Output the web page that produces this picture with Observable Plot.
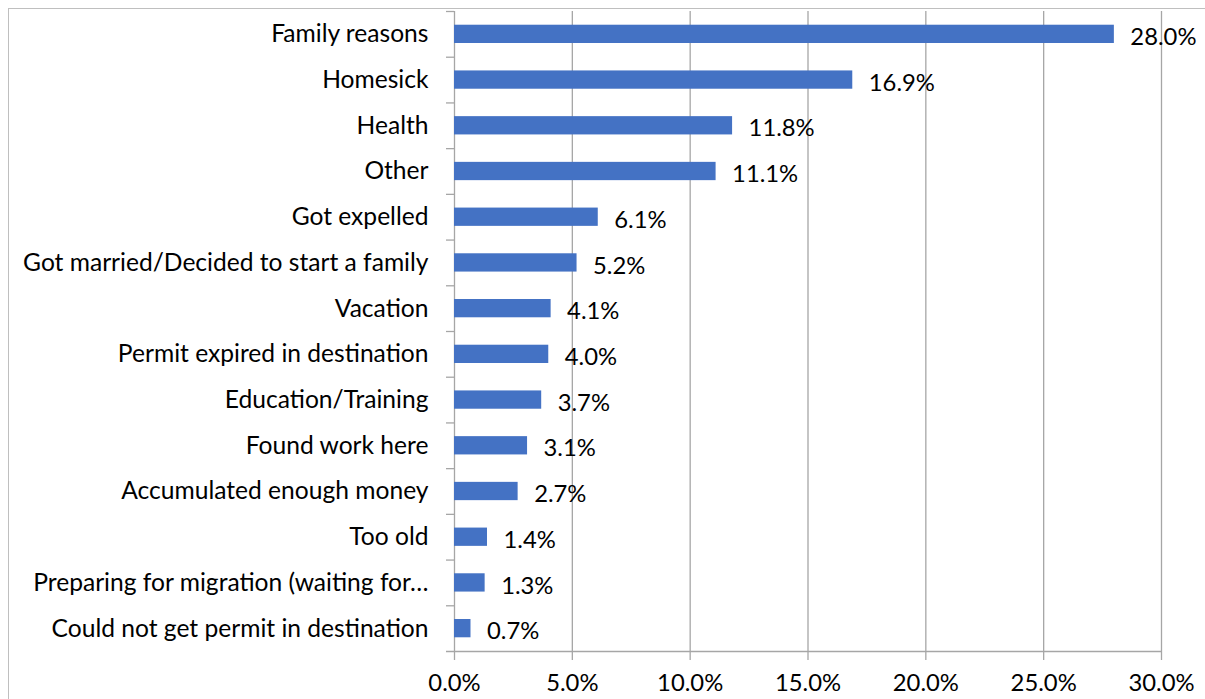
<!DOCTYPE html>
<html>
<head>
<meta charset="utf-8">
<script src="https://cdn.jsdelivr.net/npm/d3@7"></script>
<script src="https://cdn.jsdelivr.net/npm/@observablehq/plot@0.6"></script>
<style>
  html, body { margin: 0; padding: 0; background: #fff; }
  #wrap { position: relative; width: 1205px; height: 699px; overflow: hidden; }
  #border { position: absolute; left: 8px; top: 8px; width: 1300px; height: 800px; border-left: 1.5px solid #bfbfbf; border-top: 1.5px solid #bfbfbf; }
  #chart { position: absolute; left: 0; top: 0; }
</style>
</head>
<body>
<div id="wrap"><div id="border"></div><div id="chart"></div></div>
<script>
const categories = [
  "Family reasons",
  "Homesick",
  "Health",
  "Other",
  "Got expelled",
  "Got married/Decided to start a family",
  "Vacation",
  "Permit expired in destination",
  "Education/Training",
  "Found work here",
  "Accumulated enough money",
  "Too old",
  "Preparing for migration (waiting for…",
  "Could not get permit in destination"
];
const values = [28.0, 16.9, 11.8, 11.1, 6.1, 5.2, 4.1, 4.0, 3.7, 3.1, 2.7, 1.4, 1.3, 0.7];
const xTicks = [0, 5, 10, 15, 20, 25, 30];

const data = categories.map((c, i) => ({category: c, value: values[i]}));

const W = 1205, H = 699;
const mT = 11, mB = 48, mL = 454, mR = 44;
const step = (H - mT - mB) / categories.length;
const pxPerUnit = (W - mL - mR) / 30;
const tickLen = 8 / pxPerUnit;
const font = "Lato, 'Open Sans', sans-serif";
const gridColor = "#a6a6a6";

const plot = Plot.plot({
  width: W,
  height: H,
  marginTop: mT,
  marginBottom: mB,
  marginLeft: mL,
  marginRight: mR,
  style: {fontFamily: font, fontSize: "24px", color: "#000", background: "transparent", overflow: "visible"},
  x: {domain: [0, 30], ticks: xTicks},
  y: {domain: categories, paddingInner: 0.6, paddingOuter: 0.3, round: false},
  marks: [
    Plot.ruleX(xTicks, {x: d => d, stroke: gridColor, strokeWidth: 1.3}),
    Plot.ruleY(categories, {y: d => d, dy: -step / 2, x1: -tickLen, x2: 0, stroke: gridColor, strokeWidth: 1.3}),
    Plot.ruleY([categories[categories.length - 1]], {y: d => d, dy: step / 2, x1: -tickLen, x2: 30, stroke: gridColor, strokeWidth: 1.3}),
    Plot.barX(data, {x: "value", y: "category", fill: "#4472c4"}),
    Plot.text(data, {x: "value", y: "category", text: d => d.value.toFixed(1) + "%", textAnchor: "start", dx: 16, dy: 3, fill: "#000", fontSize: 23.8}),
    Plot.axisY({tickSize: 0, tickPadding: 26, fontSize: 24.6, label: null, textAnchor: "end", fill: "#000"}),
    Plot.axisX(xTicks, {tickSize: 9, tickPadding: 14, stroke: gridColor, strokeWidth: 1.3, strokeOpacity: 1, fill: "#000", fontSize: 23.8, label: null, tickFormat: d => d.toFixed(1) + "%"})
  ]
});
document.getElementById("chart").appendChild(plot);
</script>
</body>
</html>
